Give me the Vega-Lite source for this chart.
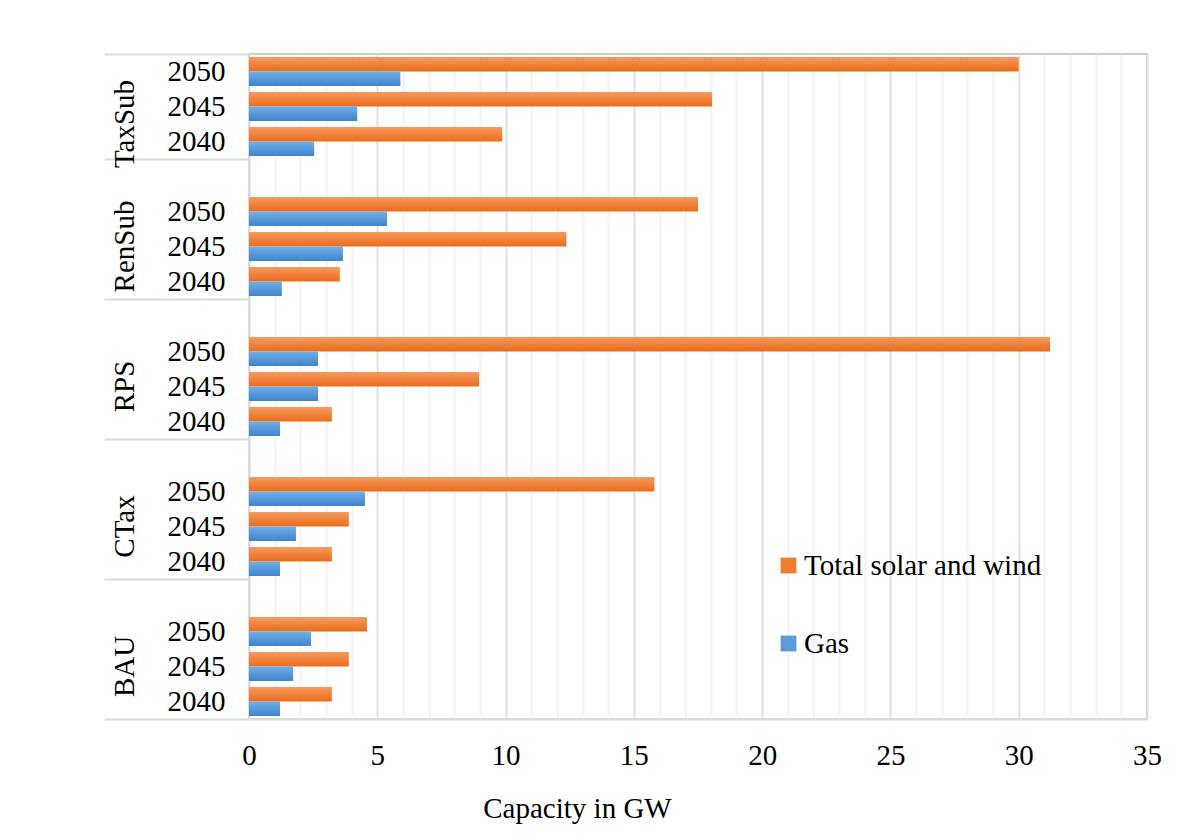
{
  "$schema": "https://vega.github.io/schema/vega-lite/v6.json",
  "autosize": {"type": "none"},
  "padding": {"left": 249, "top": 54, "right": 43, "bottom": 120},
  "width": 898,
  "height": 665,
  "background": "white",
  "config": {
    "font": "Liberation Serif",
    "view": {"stroke": "#cccccc", "strokeWidth": 2},
    "axis": {"labelFont": "Liberation Serif", "titleFont": "Liberation Serif", "labelColor": "#000000", "titleColor": "#000000", "labelFontSize": 29, "titleFontSize": 29, "titleFontWeight": "normal"}
  },
  "data": {
    "values": [
      {"scenario": "TaxSub", "year": "2050", "key": "TaxSub 2050", "series": "Total solar and wind", "value": 30.0},
      {"scenario": "TaxSub", "year": "2050", "key": "TaxSub 2050", "series": "Gas", "value": 5.9},
      {"scenario": "TaxSub", "year": "2045", "key": "TaxSub 2045", "series": "Total solar and wind", "value": 18.05},
      {"scenario": "TaxSub", "year": "2045", "key": "TaxSub 2045", "series": "Gas", "value": 4.22},
      {"scenario": "TaxSub", "year": "2040", "key": "TaxSub 2040", "series": "Total solar and wind", "value": 9.87},
      {"scenario": "TaxSub", "year": "2040", "key": "TaxSub 2040", "series": "Gas", "value": 2.54},
      {"scenario": "RenSub", "year": "2050", "key": "RenSub 2050", "series": "Total solar and wind", "value": 17.5},
      {"scenario": "RenSub", "year": "2050", "key": "RenSub 2050", "series": "Gas", "value": 5.38},
      {"scenario": "RenSub", "year": "2045", "key": "RenSub 2045", "series": "Total solar and wind", "value": 12.37},
      {"scenario": "RenSub", "year": "2045", "key": "RenSub 2045", "series": "Gas", "value": 3.66},
      {"scenario": "RenSub", "year": "2040", "key": "RenSub 2040", "series": "Total solar and wind", "value": 3.54},
      {"scenario": "RenSub", "year": "2040", "key": "RenSub 2040", "series": "Gas", "value": 1.28},
      {"scenario": "RPS", "year": "2050", "key": "RPS 2050", "series": "Total solar and wind", "value": 31.22},
      {"scenario": "RPS", "year": "2050", "key": "RPS 2050", "series": "Gas", "value": 2.69},
      {"scenario": "RPS", "year": "2045", "key": "RPS 2045", "series": "Total solar and wind", "value": 8.97},
      {"scenario": "RPS", "year": "2045", "key": "RPS 2045", "series": "Gas", "value": 2.69},
      {"scenario": "RPS", "year": "2040", "key": "RPS 2040", "series": "Total solar and wind", "value": 3.23},
      {"scenario": "RPS", "year": "2040", "key": "RPS 2040", "series": "Gas", "value": 1.21},
      {"scenario": "CTax", "year": "2050", "key": "CTax 2050", "series": "Total solar and wind", "value": 15.8},
      {"scenario": "CTax", "year": "2050", "key": "CTax 2050", "series": "Gas", "value": 4.52},
      {"scenario": "CTax", "year": "2045", "key": "CTax 2045", "series": "Total solar and wind", "value": 3.89},
      {"scenario": "CTax", "year": "2045", "key": "CTax 2045", "series": "Gas", "value": 1.83},
      {"scenario": "CTax", "year": "2040", "key": "CTax 2040", "series": "Total solar and wind", "value": 3.23},
      {"scenario": "CTax", "year": "2040", "key": "CTax 2040", "series": "Gas", "value": 1.21},
      {"scenario": "BAU", "year": "2050", "key": "BAU 2050", "series": "Total solar and wind", "value": 4.6},
      {"scenario": "BAU", "year": "2050", "key": "BAU 2050", "series": "Gas", "value": 2.42},
      {"scenario": "BAU", "year": "2045", "key": "BAU 2045", "series": "Total solar and wind", "value": 3.89},
      {"scenario": "BAU", "year": "2045", "key": "BAU 2045", "series": "Gas", "value": 1.72},
      {"scenario": "BAU", "year": "2040", "key": "BAU 2040", "series": "Total solar and wind", "value": 3.23},
      {"scenario": "BAU", "year": "2040", "key": "BAU 2040", "series": "Gas", "value": 1.21}
    ]
  },
  "encoding": {
    "x": {
      "field": "value",
      "type": "quantitative",
      "scale": {"domain": [0, 35], "nice": false, "zero": true},
      "axis": {
        "values": [0,1,2,3,4,5,6,7,8,9,10,11,12,13,14,15,16,17,18,19,20,21,22,23,24,25,26,27,28,29,30,31,32,33,34,35],
        "labelExpr": "datum.value % 5 == 0 ? datum.label : ''",
        "labelOverlap": false,
        "labelFlush": false,
        "grid": true,
        "gridColor": {"condition": {"test": "datum.value % 5 == 0", "value": "#dde1e7"}, "value": "#f1f2f3"},
        "gridWidth": 2,
        "ticks": false,
        "domainColor": "#d9dde3",
        "domainWidth": 2,
        "labelPadding": 22,
        "title": "Capacity in GW",
        "titleX": 328,
        "titleY": 98,
        "titleAlign": "center",
        "titleBaseline": "alphabetic"
      }
    }
  },
  "resolve": {"axis": {"y": "independent"}},
  "layer": [
    {
      "mark": {"type": "bar"},
      "encoding": {
        "y": {
          "field": "key",
          "type": "nominal",
          "sort": null,
          "scale": {"domain": ["TaxSub 2050","TaxSub 2045","TaxSub 2040","gap RenSub","RenSub 2050","RenSub 2045","RenSub 2040","gap RPS","RPS 2050","RPS 2045","RPS 2040","gap CTax","CTax 2050","CTax 2045","CTax 2040","gap BAU","BAU 2050","BAU 2045","BAU 2040"], "paddingInner": 0, "paddingOuter": 0},
          "axis": {
            "orient": "left",
            "labelExpr": "indexof(datum.value, 'gap') == 0 ? '' : slice(datum.value, -4)",
            "ticks": false,
            "labelPadding": 24,
            "labelAlign": "right",
            "labelBaseline": "middle",
            "labelOverlap": false,
            "domain": true,
            "domainColor": "#d9dde3",
            "domainWidth": 2,
            "grid": false,
            "title": null
          }
        },
        "yOffset": {
          "field": "series",
          "type": "nominal",
          "scale": {"domain": ["Total solar and wind", "Gas"], "paddingInner": 0, "paddingOuter": 0.207}
        },
        "color": {
          "condition": {
            "test": "datum.series == 'Gas'",
            "value": {"gradient": "linear", "x1": 0, "y1": 0, "x2": 0, "y2": 1, "stops": [{"offset": 0, "color": "#70b0e8"}, {"offset": 1, "color": "#3f84cc"}]}
          },
          "value": {"gradient": "linear", "x1": 0, "y1": 0, "x2": 0, "y2": 1, "stops": [{"offset": 0, "color": "#f59a5f"}, {"offset": 1, "color": "#eb6c1b"}]}
        }
      }
    },
    {
      "mark": {"type": "bar", "opacity": 0},
      "encoding": {
        "y": {
          "field": "key",
          "type": "nominal",
          "sort": null,
          "scale": {"domain": ["TaxSub 2050","TaxSub 2045","TaxSub 2040","gap RenSub","RenSub 2050","RenSub 2045","RenSub 2040","gap RPS","RPS 2050","RPS 2045","RPS 2040","gap CTax","CTax 2050","CTax 2045","CTax 2040","gap BAU","BAU 2050","BAU 2045","BAU 2040"], "paddingInner": 0, "paddingOuter": 0},
          "axis": {
            "orient": "left",
            "values": ["TaxSub 2050", "gap RenSub", "gap RPS", "gap CTax", "gap BAU"],
            "bandPosition": 0,
            "labelExpr": "indexof(datum.value, 'gap') == 0 ? slice(datum.value, 4) : split(datum.value, ' ')[0]",
            "labelAngle": 270,
            "labelAlign": "center",
            "labelBaseline": "alphabetic",
            "labelPadding": -29,
            "labelOffset": {"condition": {"test": "datum.value == 'TaxSub 2050'", "value": 52.5}, "value": 70},
            "labelOverlap": false,
            "labelFlush": false,
            "labelBound": false,
            "ticks": true,
            "tickSize": 145,
            "tickColor": "#d9dde3",
            "tickWidth": 2,
            "domain": false,
            "grid": false,
            "title": null
          }
        },
        "color": {
          "field": "series",
          "type": "nominal",
          "scale": {"domain": ["Total solar and wind", "Gas"], "range": ["#ef7d31", "#5a9bd8"]},
          "legend": {
            "orient": "none",
            "legendX": 525,
            "legendY": 497,
            "title": null,
            "symbolType": "square",
            "symbolSize": 250,
            "symbolStrokeWidth": 0,
            "symbolOpacity": 1,
            "labelFont": "Liberation Serif",
            "labelFontSize": 29,
            "labelColor": "#000000",
            "labelLimit": 0,
            "labelOffset": 1,
            "rowPadding": 48,
            "padding": 0
          }
        }
      }
    },
    {
      "mark": {"type": "bar", "opacity": 0},
      "encoding": {
        "y": {
          "field": "key",
          "type": "nominal",
          "sort": null,
          "scale": {"domain": ["TaxSub 2050","TaxSub 2045","TaxSub 2040","gap RenSub","RenSub 2050","RenSub 2045","RenSub 2040","gap RPS","RPS 2050","RPS 2045","RPS 2040","gap CTax","CTax 2050","CTax 2045","CTax 2040","gap BAU","BAU 2050","BAU 2045","BAU 2040"], "paddingInner": 0, "paddingOuter": 0},
          "axis": {
            "orient": "left",
            "values": ["BAU 2040"],
            "bandPosition": 1,
            "labels": false,
            "ticks": true,
            "tickSize": 145,
            "tickColor": "#d9dde3",
            "tickWidth": 2,
            "domain": false,
            "grid": false,
            "title": null
          }
        }
      }
    }
  ]
}
